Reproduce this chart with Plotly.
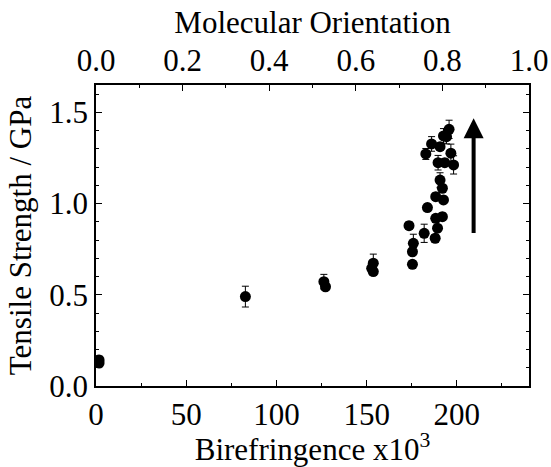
import plotly.graph_objects as go

# Birefringence x10^3 (x) and tensile strength GPa (y), with error bars
biref = [1.7, 1.7, 82.8, 126.3, 127.2, 152.8, 153.7, 153.7,
         173.5, 175.4, 175.4, 175.9, 181.9, 183.7, 182.8, 186.0,
         188.0, 188.3, 188.3, 189.3, 189.6, 190.7, 190.7, 192.0,
         192.0, 192.6, 192.6, 193.3, 194.3, 195.7, 196.7, 198.2]
strength = [0.126, 0.143, 0.49, 0.572, 0.544, 0.645, 0.627, 0.673,
            0.879, 0.736, 0.667, 0.782, 0.837, 0.978, 1.272, 1.327,
            0.81, 0.919, 1.038, 0.865, 1.224, 1.129, 1.312, 1.084,
            0.928, 1.02, 1.371, 1.224, 1.367, 1.407, 1.276, 1.212]
err = [0.02, 0.02, 0.057, 0.04, 0.02, 0.02, 0.02, 0.05,
       0.02, 0.02, 0.02, 0.05, 0.05, 0.02, 0.03, 0.04,
       0.02, 0.02, 0.02, 0.02, 0.04, 0.04, 0.02, 0.02,
       0.02, 0.02, 0.04, 0.02, 0.04, 0.05, 0.05, 0.05]

x_ticks = [0, 50, 100, 150, 200]
y_ticks = [0.0, 0.5, 1.0, 1.5]
top_ticks = [0.0, 0.2, 0.4, 0.6, 0.8, 1.0]
arrow_x = 209.3
arrow_y = [0.83, 1.468]

font = "Liberation Serif"
fs = 31

fig = go.Figure()
fig.add_trace(go.Scatter(
    x=biref, y=strength, mode="markers",
    marker=dict(color="black", size=11, symbol="circle"),
    error_y=dict(type="data", array=err, color="black", thickness=1, width=3.5),
    showlegend=False,
))
fig.add_trace(go.Scatter(x=[None], y=[None], xaxis="x2", showlegend=False, hoverinfo="skip"))

fig.add_annotation(
    x=arrow_x, y=arrow_y[1], ax=arrow_x, ay=arrow_y[0],
    xref="x", yref="y", axref="x", ayref="y",
    showarrow=True, arrowhead=2, arrowsize=1.0, arrowwidth=4, arrowcolor="black", text="",
)

axis_common = dict(
    showgrid=False, zeroline=False, showline=True, linecolor="black", linewidth=1.5,
    ticks="inside", tickcolor="black", tickwidth=1, ticklen=6, automargin=False,
    tickfont=dict(family=font, size=fs, color="black"),
)

fig.update_layout(
    width=551, height=467,
    margin=dict(l=96, r=22, t=85, b=81),
    paper_bgcolor="white", plot_bgcolor="white",
    font=dict(family=font, size=fs, color="black"),
    xaxis=dict(
        range=[0, 240], tickvals=x_ticks, mirror=False,
        minor=dict(dtick=25, tick0=0, ticks="inside", ticklen=3, tickcolor="black"),
        title=dict(text="Birefringence x10<sup>3</sup>", font=dict(family=font, size=fs), standoff=0),
        **axis_common,
    ),
    xaxis2=dict(
        range=[0, 1], tickvals=top_ticks, tickformat=".1f", side="top", overlaying="x", anchor="y",
        minor=dict(dtick=0.1, tick0=0, ticks="inside", ticklen=3, tickcolor="black"),
        title=dict(text="Molecular Orientation", font=dict(family=font, size=fs), standoff=0),
        **axis_common,
    ),
    yaxis=dict(
        range=[0, 1.65], tickvals=y_ticks, tickformat=".1f", mirror="ticks",
        minor=dict(dtick=0.1, tick0=0, ticks="inside", ticklen=3, tickcolor="black"),
        title=dict(text="Tensile Strength / GPa", font=dict(family=font, size=fs), standoff=8),
        **axis_common,
    ),
)

# remove the browser's default 8px body margin so the figure fills the window exactly
fig.write_html(
    "out.html",
    config={"displayModeBar": False},
    post_script="document.body.style.margin='0';document.body.style.overflow='hidden';",
)
